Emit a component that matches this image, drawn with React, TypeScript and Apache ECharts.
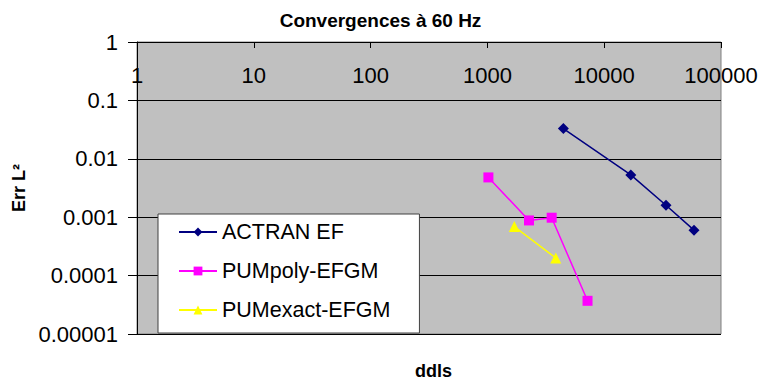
import React, { useEffect, useRef } from "react";
import * as echarts from "echarts";

const seriesNames = ["ACTRAN EF", "PUMpoly-EFGM", "PUMexact-EFGM"];
const actranX = [4470, 16900, 33800, 58700];
const actranY = [0.033, 0.0053, 0.0016, 0.0006];
const polyX = [1020, 2270, 3550, 7200];
const polyY = [0.0048, 0.00088, 0.00098, 0.000037];
const exactX = [1700, 3850];
const exactY = [0.00069, 0.0002];
const xTickLabels = ["1", "10", "100", "1000", "10000", "100000"];
const yTickLabels = ["0.00001", "0.0001", "0.001", "0.01", "0.1", "1"];

const FONT = "'Liberation Sans', Arial, sans-serif";

const zip = (xs: number[], ys: number[]) => xs.map((x, i) => [x, ys[i]]);

export default function App() {
  const ref = useRef<HTMLDivElement>(null);
  useEffect(() => {
    document.body.style.margin = "0";
    const chart = echarts.init(ref.current!, undefined, { renderer: "svg" });
    chart.setOption({
      animation: false,
      backgroundColor: "#ffffff",
      textStyle: { fontFamily: FONT },
      title: [
        {
          text: "Convergences à 60 Hz",
          left: "center",
          top: 6,
          textStyle: { fontFamily: FONT, fontSize: 19, fontWeight: "bold", color: "#000" },
        },
        {
          text: "ddls",
          left: 410,
          top: 357,
          textStyle: { fontFamily: FONT, fontSize: 18, fontWeight: "bold", color: "#000" },
        },
      ],
      legend: {
        orient: "vertical",
        left: 158,
        top: 214,
        width: 258,
        backgroundColor: "#ffffff",
        borderColor: "#404040",
        borderWidth: 1,
        borderRadius: 0,
        padding: [7, 29, 12, 20],
        itemGap: 17,
        itemWidth: 38,
        itemHeight: 11,
        textStyle: { fontFamily: FONT, fontSize: 21.5, color: "#000" },
        data: seriesNames,
      },
      grid: {
        left: 137,
        right: 40,
        top: 42,
        bottom: 49,
        show: true,
        backgroundColor: "#c0c0c0",
        borderColor: "#808080",
        borderWidth: 1,
      },
      xAxis: {
        type: "log",
        logBase: 10,
        min: 1,
        max: 100000,
        position: "top",
        axisLine: { show: true, lineStyle: { color: "#000", width: 1 } },
        axisTick: { show: true, inside: true, length: 6, lineStyle: { color: "#000" } },
        axisLabel: {
          inside: true,
          margin: 22,
          fontSize: 22,
          color: "#000",
          fontFamily: FONT,
          showMinLabel: true,
          showMaxLabel: true,
          formatter: (v: number) => xTickLabels[Math.round(Math.log10(v))] ?? "",
        },
        splitLine: { show: false },
      },
      yAxis: {
        type: "log",
        logBase: 10,
        min: 0.00001,
        max: 1,
        name: "Err L²",
        nameLocation: "middle",
        nameGap: 108,
        nameRotate: 90,
        nameTextStyle: { fontFamily: FONT, fontSize: 18, fontWeight: "bold", color: "#000" },
        axisLine: { show: true, lineStyle: { color: "#000", width: 1 } },
        axisTick: { show: true, inside: false, length: 9, lineStyle: { color: "#000" } },
        axisLabel: {
          margin: 19,
          fontSize: 22,
          color: "#000",
          fontFamily: FONT,
          showMinLabel: true,
          showMaxLabel: true,
          formatter: (v: number) => yTickLabels[Math.round(Math.log10(v)) + 5] ?? "",
        },
        splitLine: { show: true, lineStyle: { color: "#000", width: 1 } },
      },
      series: [
        {
          name: seriesNames[0],
          type: "line",
          data: zip(actranX, actranY),
          symbol: "diamond",
          symbolSize: 11,
          lineStyle: { color: "#000080", width: 1.5 },
          itemStyle: { color: "#000080", borderWidth: 0 },
        },
        {
          name: seriesNames[1],
          type: "line",
          data: zip(polyX, polyY),
          symbol: "rect",
          symbolSize: 10,
          lineStyle: { color: "#ff00ff", width: 1.5 },
          itemStyle: { color: "#ff00ff", borderWidth: 0 },
        },
        {
          name: seriesNames[2],
          type: "line",
          data: zip(exactX, exactY),
          symbol: "triangle",
          symbolSize: 11,
          lineStyle: { color: "#ffff00", width: 1.5 },
          itemStyle: { color: "#ffff00", borderWidth: 0 },
        },
      ],
    });
    return () => chart.dispose();
  }, []);
  return (
    <div
      ref={ref}
      style={{ position: "fixed", left: 0, top: 0, width: 761, height: 383 }}
    />
  );
}
